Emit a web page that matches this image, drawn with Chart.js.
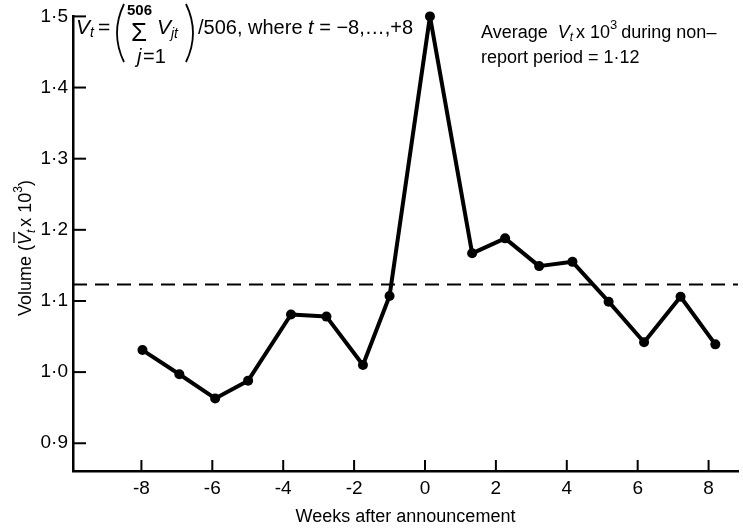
<!DOCTYPE html>
<html>
<head>
<meta charset="utf-8">
<script src="https://cdn.jsdelivr.net/npm/chart.js@4.4.1/dist/chart.umd.min.js"></script>
<style>
  html, body { margin: 0; padding: 0; background: #fff; }
  #wrap { width: 743px; height: 528px; position: relative; }
</style>
</head>
<body>
<div id="wrap"><canvas id="miGrafico"></canvas></div>
<script>
// weeks after announcement (as plotted) and mean volume x 10^3
const weeks = [-7.97, -6.93, -5.92, -4.99, -3.78, -2.78, -1.75, -1.0, 0.14, 1.33, 2.26, 3.22, 4.16, 5.18, 6.18, 7.21, 8.19];
const volume = [1.031, 0.997, 0.963, 0.988, 1.081, 1.078, 1.010, 1.107, 1.500, 1.167, 1.188, 1.149, 1.155, 1.099, 1.042, 1.106, 1.039];
const avgNonReport = 1.123;
const xTicks = [-8, -6, -4, -2, 0, 2, 4, 6, 8];
const yTicks = [0.9, 1.0, 1.1, 1.2, 1.3, 1.4, 1.5];
const xMin = -9.93, xMax = 8.83;
const yMin = 0.861, yMax = 1.5;

const FONT = '"Liberation Sans", Arial, sans-serif';

function fmtY(v) {
    return v.toFixed(1).replace('.', '\u00b7');
}

// draw a list of text runs left to right, returns end x
function drawRuns(ctx, runs, x, y) {
    for (let r of runs) {
        ctx.font = r.font;
        let w = ctx.measureText(r.text).width;
        ctx.fillText(r.text, x, y + (r.dy || 0));
        if (r.over) {
            ctx.lineWidth = 1.3;
            ctx.beginPath();
            ctx.moveTo(x + 2, y - 17);
            ctx.lineTo(x + w + 1, y - 17);
            ctx.stroke();
        }
        x += w + (r.gap || 0);
    }
    return x;
}
function runsWidth(ctx, runs) {
    let t = 0;
    for (let r of runs) {
        ctx.font = r.font;
        t += ctx.measureText(r.text).width + (r.gap || 0);
    }
    return t;
}
// thin tall bracket for the formula
function paren(ctx, x, top, bot, dir) {
    let mid = (top + bot) / 2;
    ctx.lineWidth = 1.8;
    ctx.beginPath();
    ctx.moveTo(x + dir * 6, top);
    ctx.quadraticCurveTo(x - dir * 8, mid, x + dir * 6, bot);
    ctx.stroke();
}

const inwardTicks = {
    id: 'inwardTicks',
    afterDraw(chart) {
        const ctx = chart.ctx;
        const xs = chart.scales.x, ys = chart.scales.y;
        const area = chart.chartArea;
        ctx.save();
        ctx.strokeStyle = '#000';
        ctx.fillStyle = '#000';
        ctx.lineWidth = 2;
        for (let v of xTicks) {
            let px = xs.getPixelForValue(v);
            ctx.beginPath();
            ctx.moveTo(px, area.bottom);
            ctx.lineTo(px, area.bottom - 11);
            ctx.stroke();
        }
        for (let v of yTicks) {
            let py = ys.getPixelForValue(v);
            ctx.beginPath();
            ctx.moveTo(area.left, py);
            ctx.lineTo(area.left + 13, py);
            ctx.stroke();
        }

        // y axis title, rotated
        const ital = 'italic 18px ' + FONT, norm = '18px ' + FONT, small = 'italic 12px ' + FONT, sup = '12px ' + FONT;
        const yRuns = [
            { text: 'Volume (', font: norm },
            { text: 'V', font: ital, over: true },
            { text: 't', font: small, dy: 4, gap: 3 },
            { text: 'x 10', font: norm },
            { text: '3', font: sup, dy: -9 },
            { text: ')', font: norm }
        ];
        ctx.save();
        ctx.translate(31, 248);
        ctx.rotate(-Math.PI / 2);
        ctx.textBaseline = 'alphabetic';
        drawRuns(ctx, yRuns, -runsWidth(ctx, yRuns) / 2, 0);
        ctx.restore();

        // formula, top left
        ctx.textBaseline = 'alphabetic';
        const fi = 'italic 21px ' + FONT, fn = '21px ' + FONT, fs = 'italic 14px ' + FONT;
        drawRuns(ctx, [
            { text: 'V', font: fi },
            { text: 't', font: fs, dy: 3, gap: 4 },
            { text: '=', font: fn }
        ], 76, 34);
        paren(ctx, 118, 4, 62, 1);
        ctx.font = 'bold 15px ' + FONT;
        ctx.fillText('506', 127, 15);
        ctx.font = '26px ' + FONT;
        ctx.fillText('\u03a3', 131, 41);
        ctx.font = 'italic 20px ' + FONT;
        ctx.fillText('j', 137, 63);
        ctx.font = '20px ' + FONT;
        ctx.fillText('=1', 143, 63);
        drawRuns(ctx, [
            { text: 'V', font: fi },
            { text: 'jt', font: fs, dy: 4 }
        ], 157, 34);
        paren(ctx, 192, 4, 62, -1);
        drawRuns(ctx, [
            { text: '/506, where ', font: '20px ' + FONT },
            { text: 't', font: 'italic 20px ' + FONT },
            { text: ' = \u22128,\u2026,+8', font: '20px ' + FONT }
        ], 198, 34);

        // note, top right
        const ni = 'italic 18px ' + FONT, nn = '18px ' + FONT;
        drawRuns(ctx, [
            { text: 'Average  ', font: nn },
            { text: 'V', font: ni },
            { text: 't', font: 'italic 12px ' + FONT, dy: 3, gap: 3 },
            { text: 'x 10', font: nn },
            { text: '3', font: '13px ' + FONT, dy: -9, gap: 4 },
            { text: 'during non\u2013', font: nn }
        ], 481, 38);
        ctx.font = nn;
        ctx.fillText('report period = 1\u00b712', 481, 63);
        ctx.restore();
    }
};

const ctx = document.getElementById('miGrafico');
const grafico = new Chart(ctx, {
    type: 'line',
    data: {
        datasets: [
            {
                data: weeks.map((w, i) => ({ x: w, y: volume[i] })),
                borderColor: '#000',
                backgroundColor: '#000',
                borderWidth: 4,
                borderJoinStyle: 'round',
                pointRadius: 5,
                pointBorderWidth: 0,
                pointBackgroundColor: '#000',
                tension: 0,
                clip: false
            },
            {
                data: [{ x: xMin, y: avgNonReport }, { x: xMax, y: avgNonReport }],
                borderColor: '#000',
                borderWidth: 2,
                borderDash: [14, 8],
                pointRadius: 0,
                tension: 0
            }
        ]
    },
    options: {
        responsive: true,
        maintainAspectRatio: false,
        animation: false,
        events: [],
        layout: { padding: { top: 14, right: 0, left: 0, bottom: 0 } },
        plugins: { legend: { display: false }, tooltip: { enabled: false }, title: { display: false } },
        scales: {
            x: {
                type: 'linear',
                min: xMin,
                max: xMax,
                afterBuildTicks: s => { s.ticks = xTicks.map(v => ({ value: v })); },
                afterFit: s => { s.height = 57; },
                grid: { display: false, drawTicks: false },
                border: { display: true, color: '#000', width: 2.5 },
                ticks: {
                    color: '#000',
                    font: { family: FONT, size: 19 },
                    padding: 6,
                    maxRotation: 0,
                    callback: v => (v < 0 ? '-' + Math.abs(v) : '' + v)
                },
                title: {
                    display: true,
                    text: 'Weeks after announcement',
                    color: '#000',
                    font: { family: FONT, size: 18 },
                    padding: { top: 4, bottom: 0 }
                }
            },
            y: {
                min: yMin,
                max: yMax,
                afterBuildTicks: s => { s.ticks = yTicks.map(v => ({ value: v })); },
                afterFit: s => { s.width = 73; },
                grid: { display: false, drawTicks: false },
                border: { display: true, color: '#000', width: 2.5 },
                ticks: {
                    color: '#000',
                    font: { family: FONT, size: 19 },
                    padding: 5,
                    callback: v => fmtY(v)
                }
            }
        }
    },
    plugins: [inwardTicks]
});
</script>
</body>
</html>
